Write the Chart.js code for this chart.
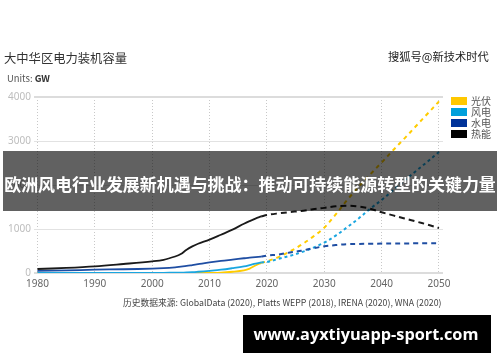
<!DOCTYPE html>
<html>
<head>
<meta charset="utf-8">
<script src="https://cdn.jsdelivr.net/npm/chart.js@4/dist/chart.umd.min.js"></script>
<style>
  html,body{margin:0;padding:0;background:#fff;}
  body{width:500px;height:362px;position:relative;overflow:hidden;font-family:"Noto Sans CJK SC","Noto Sans",sans-serif;}
  canvas{position:absolute;left:0;top:0;}
  .t{position:absolute;white-space:nowrap;line-height:1;}
  #banner{position:absolute;left:3px;top:151px;width:494px;height:60px;background:rgba(0,0,0,0.62);}
  #urlbox{position:absolute;left:243px;top:315px;width:248px;height:38px;background:#000;}
  .lg{position:absolute;width:16px;height:8px;}
</style>
</head>
<body>
<canvas id="c" width="500" height="362"></canvas>
<div id="banner"></div>
<div id="urlbox"></div>
<span class="t" id="title" style="color:#333;">大中华区电力装机容量</span>
<span class="t" id="units" style="color:#555;">Units: <b style="font-weight:600;color:#333">GW</b></span>
<span class="t" id="wm" style="color:#222;">搜狐号@新技术时代</span>
<span class="t" id="src" style="color:#444;">历史数据来源: GlobalData (2020), Platts WEPP (2018), IRENA (2020), WNA (2020)</span>
<span class="t" id="bt" style="color:#fff;font-weight:700;">欧洲风电行业发展新机遇与挑战：推动可持续能源转型的关键力量</span>
<span class="t" id="ut" style="color:#fff;font-weight:700;font-family:'Open Sans','DejaVu Sans',sans-serif;">www.ayxtiyuapp-sport.com</span>
<div id="legend"></div>
<script>
// ---- data ----
const seriesNames = ['光伏', '风电', '水电', '热能'];
const seriesColors = ['#ffcc00', '#1aa6e0', '#1f4ea3', '#1a1a1a'];
const legendColors = ['#ffc800', '#00a0dc', '#003399', '#000000'];
const xTicks = [1980, 1990, 2000, 2010, 2020, 2030, 2040, 2050];
const yTicks = [0, 1000, 2000, 3000, 4000];

const histYears = [1980,1985,1990,1995,2000,2002,2004,2005,2006,2007,2008,2010,2012,2014,2016,2017,2018,2019];
const solarHist   = [0,0,0,0,0,0,0,0,0,0,0,2,8,28,60,100,170,230];
const windHist    = [5,5,5,5,5,5,6,8,12,18,28,50,75,110,150,180,215,240];
const hydroHist   = [50,60,75,85,98,110,130,145,160,180,200,240,275,305,335,350,362,372];
const thermalHist = [91,115,150,205,265,300,375,430,530,605,665,758,870,985,1120,1180,1235,1285];

const projYears = [2019,2020,2022,2024,2026,2028,2030,2032,2034,2036,2038,2040,2042,2044,2046,2048,2050];
const solarProj   = [230,265,360,490,640,820,1030,1330,1660,1960,2240,2510,2790,3060,3340,3620,3900];
const windProj    = [240,250,320,390,470,570,690,850,1040,1240,1460,1660,1880,2100,2320,2530,2750];
const hydroProj   = [372,394,420,465,505,560,606,635,655,660,665,668,670,672,674,675,676];
const thermalProj = [1285,1318,1355,1385,1410,1450,1480,1515,1530,1510,1460,1380,1310,1240,1170,1100,1020];

const hist = [solarHist, windHist, hydroHist, thermalHist];
const proj = [solarProj, windProj, hydroProj, thermalProj];
const dashes = [[4,4],[3,3],[5,4],[6,4]];

const toXY = (xs, ys) => xs.map((x,i)=>({x:x, y:ys[i]}));
const datasets = [];
// draw order: thermal on top-ish
for (let i = 0; i < 4; i++) {
  datasets.push({label: seriesNames[i], data: toXY(histYears, hist[i]), borderColor: seriesColors[i],
    borderWidth: 1.8, pointRadius: 0, tension: 0.35, fill: false, order: 10 - i});
  datasets.push({label: seriesNames[i] + ' 预测', data: toXY(projYears, proj[i]), borderColor: seriesColors[i],
    borderWidth: 2, borderDash: dashes[i], pointRadius: 0, tension: 0.35, fill: false, order: 10 - i});
}

new Chart(document.getElementById('c'), {
  type: 'line',
  data: {datasets: datasets},
  options: {
    responsive: false,
    animation: false,
    layout: {padding: {left: 0, right: 57, top: 97, bottom: 69}},
    plugins: {legend: {display: false}, tooltip: {enabled: false}},
    scales: {
      x: {
        type: 'linear', min: 1979.4, max: 2050.7,
        afterBuildTicks: s => { s.ticks = xTicks.map(v => ({value: v})); },
        afterFit: s => { s.height = 20; },
        grid: {color: '#c8c8c8', lineWidth: 1, drawTicks: false},
        border: {display: false, dash: [1, 2]},
        ticks: {color: '#666', font: {size: 10, family: '"Noto Sans", sans-serif'}, padding: 5,
          callback: v => String(v), maxRotation: 0}
      },
      y: {
        min: 0, max: 4000,
        afterBuildTicks: s => { s.ticks = yTicks.map(v => ({value: v})); },
        afterFit: s => { s.width = 34; },
        grid: {color: c => (c.tick && (c.tick.value === 0 || c.tick.value === 4000)) ? '#dcdcdc' : '#e2e2e2',
               lineWidth: c => (c.tick && (c.tick.value === 0 || c.tick.value === 4000)) ? 2 : 1,
               drawTicks: false},
        border: {display: false},
        ticks: {color: '#bdbdbd', font: {size: 10, family: '"Noto Sans", sans-serif'}, padding: 3,
          callback: v => String(v)}
      }
    }
  }
});

// ---- legend (HTML) ----
const lg = document.getElementById('legend');
const rowY = [101, 112, 123, 134];
seriesNames.forEach((n, i) => {
  const b = document.createElement('div');
  b.className = 'lg'; b.style.left = '451px'; b.style.top = (rowY[i] - 4) + 'px'; b.style.background = legendColors[i];
  lg.appendChild(b);
  const t = document.createElement('span');
  t.className = 't'; t.textContent = n; t.style.color = '#555'; t.style.fontSize = '10px';
  lg.appendChild(t);
  const r = t.getBoundingClientRect();
  t.style.left = '471px'; t.style.top = (rowY[i] - r.height / 2) + 'px';
});

// ---- text placement helpers ----
function place(id, left, cy, width, center) {
  const el = document.getElementById(id);
  el.style.fontSize = '10px';
  let w = el.getBoundingClientRect().width;
  el.style.fontSize = (10 * width / w) + 'px';
  const r = el.getBoundingClientRect();
  el.style.left = (center ? left - r.width / 2 : left) + 'px';
  el.style.top = (cy - r.height / 2) + 'px';
}
place('title', 4, 58, 123, false);
place('units', 7, 79, 43, false);
place('wm', 388, 57, 101, false);
place('src', 123, 303, 319, false);
place('bt', 250, 184, 492, true);
place('ut', 366, 334, 225, true);
</script>
</body>
</html>
